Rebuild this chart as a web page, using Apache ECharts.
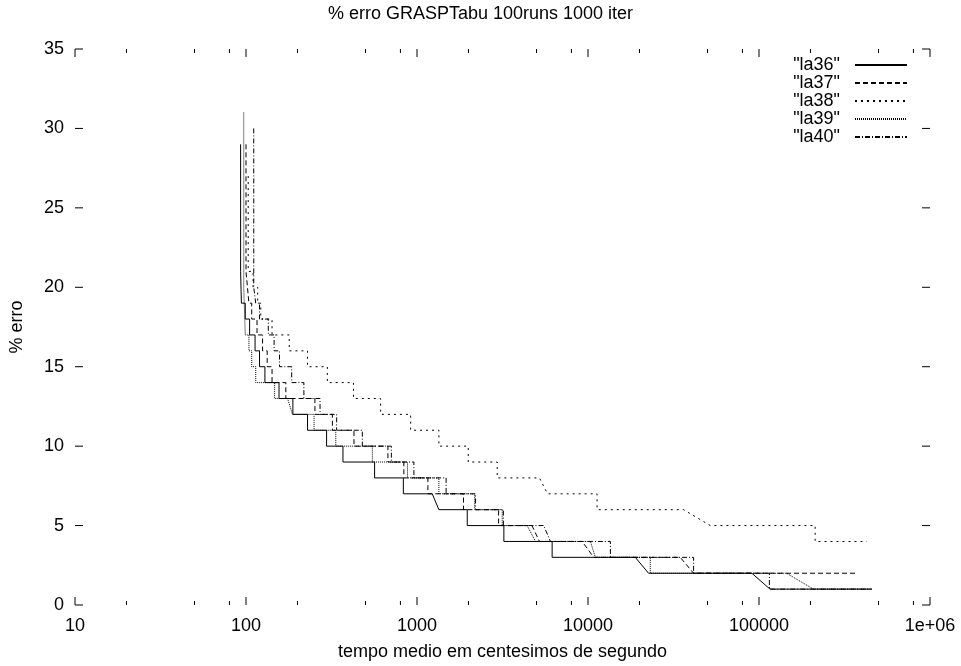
<!DOCTYPE html>
<html>
<head>
<meta charset="utf-8">
<script src="https://cdn.jsdelivr.net/npm/echarts@6/dist/echarts.min.js"></script>
<style>
html, body { margin: 0; padding: 0; background: #fff; }
#chart { width: 961px; height: 666px; }
</style>
</head>
<body>
<div id="chart"></div>
<script>
// tempo medio (centesimos) x % erro
var la36 = [[93,29],[93,21],[94,21],[94,19],[99,19],[99,18],[105,18],[105,17],[113,17],[113,16],[120,16],[120,15],
	[129,15],[129,14],[156,14],[156,13],[188,13],[188,12],[229,12],[229,11],[296,11],[296,10],[369,10],[369,9],
	[565,9],[565,8],[832,8],[832,7],[1228,7],[1343,6],[1967,6],[1967,5],[3221,5],[3221,4],[6170,4],[6170,3],
	[18900,3],[22600,2],[90800,2],[116000,1],[456000,1]];
var la37 = [[100,29],[100,21],[102,21],[102,20],[104,20],[104,19],[108,19],[108,18],[116,18],[116,17],[125,17],[125,16],
	[133,16],[133,15],[142,15],[142,14],[171,14],[171,13],[253,13],[253,12],[320,12],[320,11],[428,11],[428,10],
	[676,10],[676,9],[838,9],[838,8],[1158,8],[1158,7],[1870,7],[1870,6],[3000,6],[3000,5],[4700,5],[5200,4],
	[9240,4],[10800,3],[34650,3],[41440,2],[375000,2]];
var la38 = [[103,27],[103,21],[110,21],[110,20],[117,20],[117,19],[122,19],[122,18],[142,18],[142,17],[179,17],[179,16],
	[229,16],[229,15],[299,15],[299,14],[425,14],[425,13],[613,13],[613,12],[918,12],[918,11],[1343,11],[1343,10],
	[1994,10],[1994,9],[2946,9],[2946,8],[5200,8],[5800,7],[11300,7],[11300,6],[36200,6],[51900,5],[213000,5],
	[213000,4],[427000,4]];
var la39 = [[97,31],[97,20],[99,20],[99,17],[104,17],[104,16],[108,16],[108,15],[114,15],[114,14],[147,14],[147,13],
	[175,13],[187,12],[250,12],[250,11],[335,11],[335,10],[548,10],[548,9],[880,9],[880,8],[1343,8],[1343,7],
	[2173,7],[2173,6],[3150,6],[3150,5],[4406,5],[4930,4],[10330,4],[11040,3],[23130,3],[23130,2],[145000,2],
	[208000,1],[456000,1]];
var la40 = [[111,30],[111,20],[114,20],[114,19],[120,19],[120,18],[135,18],[135,17],[146,17],[146,16],[157,16],[157,15],
	[185,15],[185,14],[218,14],[218,13],[271,13],[271,12],[339,12],[339,11],[479,11],[479,10],[708,10],[708,9],
	[959,9],[959,8],[1480,8],[1480,7],[2200,7],[2200,6],[3200,6],[3200,5],[5510,5],[6030,4],[13520,4],[13520,3],
	[41440,3],[41440,2],[115000,2],[115000,1],[456000,1]];

var seriesNames = ['"la36"', '"la37"', '"la38"', '"la39"', '"la40"'];
var seriesData = [la36, la37, la38, la39, la40];
var dashTypes = ['solid', [5, 3], [2, 4], [1, 1], [5, 2, 1, 2]];

var xMajorTicks = [10, 100, 1000, 10000, 100000, 1000000];
var xMajorLabels = ['10', '100', '1000', '10000', '100000', '1e+06'];
var xMinorTicks = [20, 50, 80, 200, 500, 800, 2000, 5000, 8000, 20000, 50000, 80000, 200000, 500000, 800000];
var yTicks = [0, 5, 10, 15, 20, 25, 30, 35];

var font = '"Liberation Sans", Arial, Helvetica, sans-serif';
var clear = 'rgba(0,0,0,0)';

var chart = echarts.init(document.getElementById('chart'));

// marcas dos eixos (estilo gnuplot: para dentro, nos quatro lados)
function xTickItem(params, api) {
	var cs = params.coordSys;
	var x = api.coord([api.value(0), 0])[0];
	var len = api.value(2) ? 8 : 4;
	var st = { stroke: '#000', lineWidth: 1 };
	return {
		type: 'group',
		children: [
			{ type: 'line', shape: { x1: x, y1: cs.y + cs.height, x2: x, y2: cs.y + cs.height - len }, style: st },
			{ type: 'line', shape: { x1: x, y1: cs.y, x2: x, y2: cs.y + len }, style: st }
		]
	};
}
function yTickItem(params, api) {
	var cs = params.coordSys;
	var y = api.coord([10, api.value(1)])[1];
	var st = { stroke: '#000', lineWidth: 1 };
	return {
		type: 'group',
		children: [
			{ type: 'line', shape: { x1: cs.x, y1: y, x2: cs.x + 8, y2: y }, style: st },
			{ type: 'line', shape: { x1: cs.x + cs.width, y1: y, x2: cs.x + cs.width - 8, y2: y }, style: st }
		]
	};
}

var xTickData = [];
xMajorTicks.forEach(function (v) { xTickData.push([v, 0, 1]); });
xMinorTicks.forEach(function (v) { xTickData.push([v, 0, 0]); });

var series = [];
seriesData.forEach(function (d, i) {
	series.push({
		name: seriesNames[i],
		type: 'line',
		data: d,
		symbol: 'none',
		clip: false,
		lineStyle: { color: '#000', width: 1, type: dashTypes[i] },
		itemStyle: { color: clear, borderWidth: 0 }
	});
});
series.push({
	type: 'custom',
	renderItem: xTickItem,
	data: xTickData,
	encode: { x: 0, y: 1 },
	clip: false,
	silent: true
});
series.push({
	type: 'custom',
	renderItem: yTickItem,
	data: yTicks.map(function (v) { return [10, v]; }),
	encode: { x: 0, y: 1 },
	clip: false,
	silent: true
});

var option = {
	animation: false,
	backgroundColor: '#fff',
	textStyle: { fontFamily: font, color: '#000' },
	title: {
		text: '% erro GRASPTabu 100runs 1000 iter',
		left: 'center',
		top: 0,
		textStyle: { fontFamily: font, fontSize: 18, fontWeight: 'normal', color: '#000' }
	},
	legend: {
		data: seriesNames,
		orient: 'vertical',
		right: 53,
		top: 56,
		padding: 0,
		align: 'right',
		itemWidth: 52,
		itemHeight: 12,
		itemGap: 0,
		itemStyle: { color: clear, borderWidth: 0 },
		formatter: function (name) { return name + '  '; },
		textStyle: { fontFamily: font, fontSize: 18, color: '#000' }
	},
	grid: { left: 74, right: 31, top: 49, bottom: 58 },
	xAxis: {
		type: 'log',
		logBase: 10,
		min: 10,
		max: 1000000,
		name: 'tempo medio em centesimos de segundo',
		nameLocation: 'middle',
		nameGap: 38,
		nameTextStyle: { fontFamily: font, fontSize: 18, color: '#000' },
		axisLine: { show: false },
		axisTick: { show: false },
		splitLine: { show: false },
		axisLabel: {
			margin: 12,
			fontFamily: font,
			fontSize: 18,
			color: '#000',
			formatter: function (v) {
				var i = xMajorTicks.indexOf(Math.round(v));
				return i >= 0 ? xMajorLabels[i] : '';
			}
		}
	},
	yAxis: {
		type: 'value',
		min: 0,
		max: 35,
		interval: 5,
		name: '% erro',
		nameLocation: 'middle',
		nameGap: 49,
		nameTextStyle: { fontFamily: font, fontSize: 18, color: '#000' },
		axisLine: { show: false },
		axisTick: { show: false },
		splitLine: { show: false },
		axisLabel: { margin: 11, fontFamily: font, fontSize: 18, color: '#000' }
	},
	series: series
};

chart.setOption(option);
</script>
</body>
</html>
